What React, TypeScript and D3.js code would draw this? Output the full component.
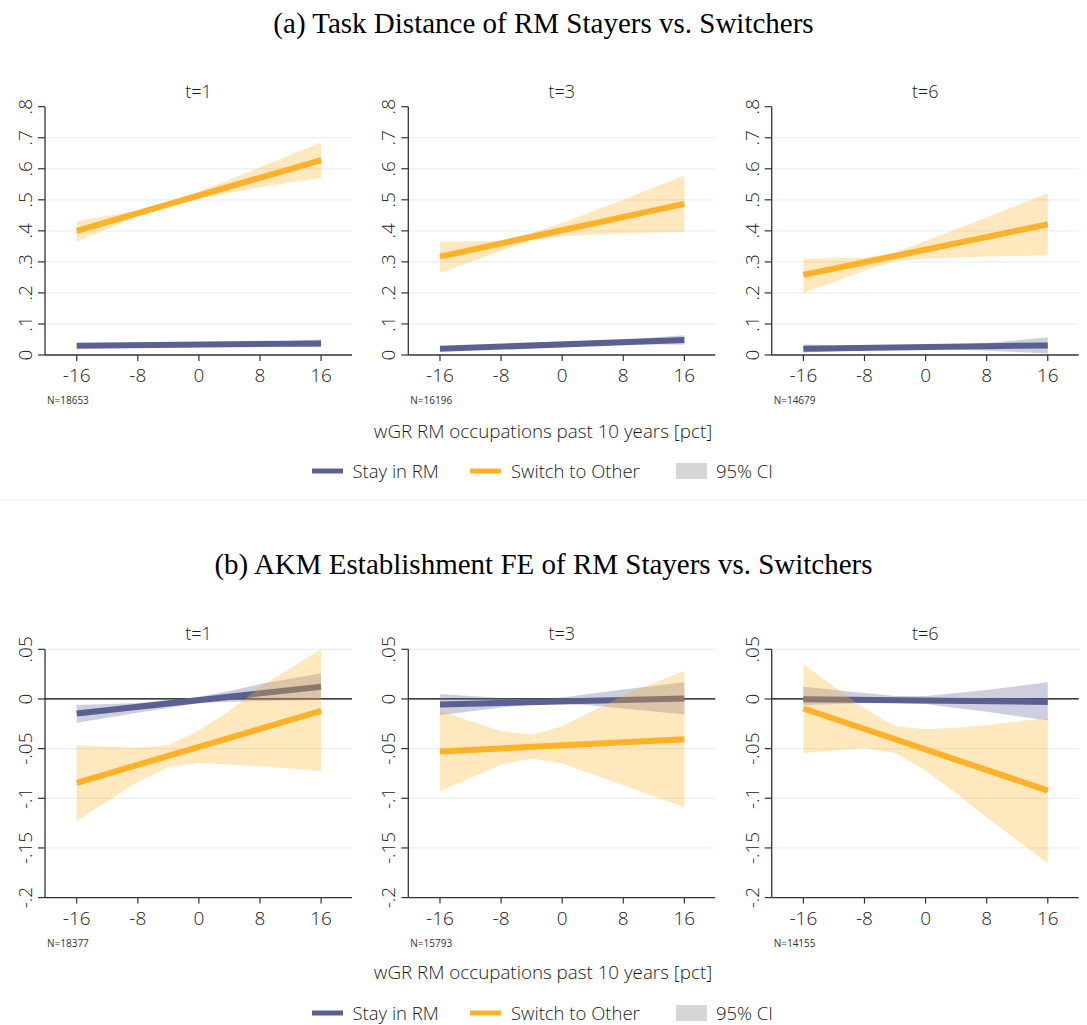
import React from "react";
import * as d3 from "d3";

const xTicks = [-16, -8, 0, 8, 16];
const panelTitles = ["t=1", "t=3", "t=6"];
const nTop = ["N=18653", "N=16196", "N=14679"];
const nBottom = ["N=18377", "N=15793", "N=14155"];
const lineX = [-16, 16];
const ciX = [-16, -8, -4, 0, 4, 8, 16];

// Panel (a): task distance
const stayTop = [[0.030, 0.037], [0.020, 0.048], [0.020, 0.031]];
const switchTop = [[0.400, 0.628], [0.317, 0.487], [0.258, 0.421]];
const stayTopLo = [
  [0.025, 0.028, 0.029, 0.031, 0.030, 0.029, 0.025],
  [0.012, 0.022, 0.027, 0.031, 0.033, 0.035, 0.033],
  [0.008, 0.015, 0.019, 0.022, 0.018, 0.014, 0.005],
];
const stayTopHi = [
  [0.035, 0.034, 0.034, 0.035, 0.038, 0.041, 0.050],
  [0.028, 0.031, 0.033, 0.037, 0.043, 0.049, 0.064],
  [0.034, 0.029, 0.028, 0.029, 0.034, 0.039, 0.056],
];
const switchTopLo = [
  [0.365, 0.448, 0.478, 0.503, 0.522, 0.540, 0.571],
  [0.265, 0.335, 0.370, 0.382, 0.388, 0.392, 0.396],
  [0.199, 0.272, 0.303, 0.310, 0.314, 0.317, 0.321],
];
const switchTopHi = [
  [0.432, 0.465, 0.493, 0.527, 0.565, 0.605, 0.685],
  [0.365, 0.368, 0.393, 0.425, 0.463, 0.500, 0.578],
  [0.310, 0.313, 0.330, 0.367, 0.405, 0.443, 0.522],
];

// Panel (b): AKM establishment FE
const stayBot = [[-0.0147, 0.0123], [-0.0056, 0.0005], [-0.0002, -0.003]];
const switchBot = [[-0.0844, -0.012], [-0.0528, -0.0406], [-0.0096, -0.0922]];
const stayBotLo = [
  [-0.024, -0.014, -0.009, -0.004, -0.003, -0.002, -0.001],
  [-0.0164, -0.0085, -0.006, -0.0046, -0.0065, -0.0096, -0.0157],
  [-0.0063, -0.004, -0.004, -0.005, -0.009, -0.013, -0.0214],
];
const stayBotHi = [
  [-0.006, -0.004, -0.001, 0.002, 0.008, 0.015, 0.026],
  [0.0049, 0.001, 0.0, 0.0015, 0.0055, 0.0095, 0.0167],
  [0.0123, 0.006, 0.003, 0.003, 0.006, 0.009, 0.0167],
];
const switchBotLo = [
  [-0.123, -0.083, -0.0686, -0.0646, -0.066, -0.0676, -0.0726],
  [-0.093, -0.066, -0.06, -0.065, -0.076, -0.087, -0.109],
  [-0.0544, -0.0494, -0.0544, -0.072, -0.095, -0.119, -0.1656],
];
const switchBotHi = [
  [-0.0467, -0.0494, -0.0467, -0.0315, -0.012, 0.012, 0.05],
  [-0.012, -0.0325, -0.036, -0.0275, -0.012, 0.0038, 0.0284],
  [0.0348, -0.0096, -0.0275, -0.0305, -0.029, -0.0265, -0.019],
];

const yTicksTop = [0, 0.1, 0.2, 0.3, 0.4, 0.5, 0.6, 0.7, 0.8];
const yLabelsTop = ["0", ".1", ".2", ".3", ".4", ".5", ".6", ".7", ".8"];
const yTicksBot = [0.05, 0, -0.05, -0.1, -0.15, -0.2];
const yLabelsBot = [".05", "0", "-.05", "-.1", "-.15", "-.2"];

const xTitle = "wGR RM occupations past 10 years [pct]";
const legendLabels = ["Stay in RM", "Switch to Other", "95% CI"];
const titleA = "(a) Task Distance of RM Stayers vs. Switchers";
const titleB = "(b) AKM Establishment FE of RM Stayers vs. Switchers";

const NAVY = "#5a6092";
const ORANGE = "#ffb127";
const FONT = "'Open Sans', sans-serif";
const SERIF = "'Liberation Serif', 'Times New Roman', serif";
const AXIS = "#333";
const GRID = "#e8eff1";
const TXT = "#1a1a1a";

const panelLeft = [45, 408.3, 771.7];
const plotW = 307;
const plotH = 248.3;

type RowProps = {
  top: number;
  yDomain: [number, number];
  yTicks: number[];
  yLabels: string[];
  grid: number[];
  zero: boolean;
  stay: number[][];
  sw: number[][];
  stayLo: number[][];
  stayHi: number[][];
  swLo: number[][];
  swHi: number[][];
  ns: string[];
};

function Row(p: RowProps) {
  return (
    <g>
      {panelLeft.map((left, i) => {
        const x = d3.scaleLinear().domain([-20.15, 20.05]).range([left, left + plotW]);
        const y = d3.scaleLinear().domain(p.yDomain).range([p.top + plotH, p.top]);
        const band = (lo: number[], hi: number[]) =>
          d3
            .area<number>()
            .x((d) => x(d))
            .y0((_, j) => y(lo[j]))
            .y1((_, j) => y(hi[j]))(ciX) || "";
        const line = (vals: number[]) =>
          d3
            .line<number>()
            .x((d) => x(d))
            .y((_, j) => y(vals[j]))(lineX) || "";
        const bottom = p.top + plotH;
        return (
          <g key={i}>
            {p.grid.map((g) => (
              <line key={g} x1={left} x2={left + plotW} y1={y(g)} y2={y(g)} stroke={GRID} strokeWidth={1.2} />
            ))}
            {p.zero && (
              <line x1={left} x2={left + plotW} y1={y(0)} y2={y(0)} stroke="#000" strokeWidth={1.2} />
            )}
            <path d={band(p.stayLo[i], p.stayHi[i])} fill={NAVY} fillOpacity={0.3} />
            <path d={line(p.stay[i])} stroke={NAVY} strokeWidth={6} fill="none" />
            <path d={band(p.swLo[i], p.swHi[i])} fill={ORANGE} fillOpacity={0.3} />
            <path d={line(p.sw[i])} stroke={ORANGE} strokeWidth={6} fill="none" />
            <line x1={left} x2={left} y1={p.top} y2={bottom} stroke={AXIS} strokeWidth={1.3} />
            <line x1={left} x2={left + plotW} y1={bottom} y2={bottom} stroke={AXIS} strokeWidth={1.3} />
            {p.yTicks.map((t, k) => (
              <g key={t}>
                <line x1={left - 7} x2={left} y1={y(t)} y2={y(t)} stroke={AXIS} strokeWidth={1.2} />
                <text
                  transform={`translate(${left - 13},${y(t)}) rotate(-90)`}
                  textAnchor="middle"
                  fontFamily={FONT}
                  fontSize={19}
                  fontWeight={300}
                  fill={TXT}
                >
                  {p.yLabels[k]}
                </text>
              </g>
            ))}
            {xTicks.map((t) => (
              <g key={t}>
                <line x1={x(t)} x2={x(t)} y1={bottom} y2={bottom + 6} stroke={AXIS} strokeWidth={1.2} />
                <text x={x(t)} y={bottom + 27} textAnchor="middle" fontFamily={FONT} fontSize={19} fontWeight={300} fill={TXT}>
                  {t}
                </text>
              </g>
            ))}
            <text x={left + plotW / 2} y={p.top - 9} textAnchor="middle" fontFamily={FONT} fontSize={18} fontWeight={300} fill={TXT}>
              {panelTitles[i]}
            </text>
            <text x={left + 2} y={bottom + 49} fontFamily={FONT} fontSize={10} fill="#333">
              {p.ns[i]}
            </text>
          </g>
        );
      })}
    </g>
  );
}

function Legend({ cy }: { cy: number }) {
  return (
    <g fontFamily={FONT} fontSize={18.5} fontWeight={300} fill={TXT}>
      <line x1={312} x2={343} y1={cy} y2={cy} stroke={NAVY} strokeWidth={5} />
      <text x={352.5} y={cy + 6.5}>{legendLabels[0]}</text>
      <line x1={470} x2={501} y1={cy} y2={cy} stroke={ORANGE} strokeWidth={5} />
      <text x={511} y={cy + 6.5}>{legendLabels[1]}</text>
      <rect x={676} y={cy - 8} width={31} height={16} fill="#d6d6d6" />
      <text x={716} y={cy + 6.5}>{legendLabels[2]}</text>
    </g>
  );
}

export default function App() {
  return (
    <svg width={1087} height={1025} style={{ display: "block", position: "absolute", left: 0, top: 0 }}>
      <rect width={1087} height={1025} fill="#fff" />
      <text x={543.5} y={33} textAnchor="middle" fontFamily={SERIF} fontSize={29} fill="#000">
        {titleA}
      </text>
      <Row
        top={106.7}
        yDomain={[0, 0.8]}
        yTicks={yTicksTop}
        yLabels={yLabelsTop}
        grid={yTicksTop.slice(1, 8)}
        zero={false}
        stay={stayTop}
        sw={switchTop}
        stayLo={stayTopLo}
        stayHi={stayTopHi}
        swLo={switchTopLo}
        swHi={switchTopHi}
        ns={nTop}
      />
      <text x={543} y={438} textAnchor="middle" fontFamily={FONT} fontSize={18.8} fontWeight={300} fill={TXT}>
        {xTitle}
      </text>
      <Legend cy={471} />
      <line x1={0} x2={1087} y1={500} y2={500} stroke="#eeeeee" strokeWidth={1} />
      <text x={543.5} y={574} textAnchor="middle" fontFamily={SERIF} fontSize={29} fill="#000">
        {titleB}
      </text>
      <Row
        top={649.3}
        yDomain={[-0.2, 0.05]}
        yTicks={yTicksBot}
        yLabels={yLabelsBot}
        grid={[0.05, -0.05, -0.1, -0.15]}
        zero={true}
        stay={stayBot}
        sw={switchBot}
        stayLo={stayBotLo}
        stayHi={stayBotHi}
        swLo={switchBotLo}
        swHi={switchBotHi}
        ns={nBottom}
      />
      <text x={543} y={979} textAnchor="middle" fontFamily={FONT} fontSize={18.8} fontWeight={300} fill={TXT}>
        {xTitle}
      </text>
      <Legend cy={1013} />
    </svg>
  );
}
